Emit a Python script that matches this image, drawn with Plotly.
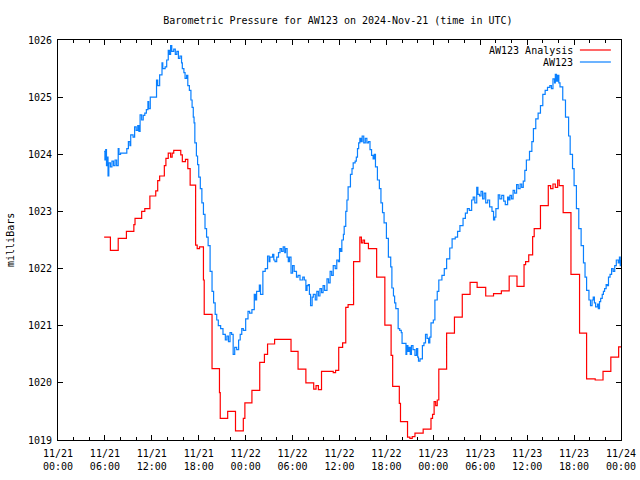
import pandas as pd
import plotly.graph_objects as go

# Hours after 2024-11-21 00:00 UTC and pressure values (mb)
analysis_hours = [5.9, 6.7, 7.7, 8.75, 9.7, 9.85, 10.7, 11.1, 11.75, 12.5, 12.75, 13.0, 13.6, 13.8,
                  14.1, 14.4, 14.6, 14.8, 15.7, 15.9, 16.3, 16.6, 16.9, 17.6, 17.8, 18.1, 18.6, 18.7,
                  19.7, 20.65, 20.75, 21.7, 22.7, 23.7, 23.9, 24.8, 25.8, 26.4, 26.8, 27.7, 29.8,
                  30.7, 31.7, 32.7, 33.0, 33.3, 33.7, 35.2, 35.5, 35.9, 36.4, 36.8, 37.1, 37.8, 38.6,
                  38.8, 39.0, 39.2, 39.7, 40.75, 41.8, 42.6, 42.8, 43.65, 43.8, 44.7, 45.0, 45.3,
                  45.65, 46.7, 47.7, 47.9, 48.1, 48.3, 48.5, 48.7, 49.7, 50.7, 51.7, 52.7, 53.6,
                  54.7, 55.7, 56.7, 57.7, 58.7, 59.6, 59.8, 60.2, 60.7, 60.9, 61.7, 62.7, 63.0,
                  63.3, 63.6, 63.9, 64.1, 64.6, 65.6, 66.7, 67.6, 68.7, 69.7, 70.7, 71.7, 72.0]
analysis_values = [1022.55, 1022.32, 1022.53, 1022.65, 1022.77, 1022.88, 1023.00, 1023.05, 1023.27,
                   1023.36, 1023.54, 1023.62, 1023.80, 1023.93, 1024.02, 1023.95, 1024.02, 1024.07,
                   1023.99, 1023.87, 1023.91, 1023.75, 1023.46, 1022.41, 1022.35, 1022.38, 1021.80,
                   1021.20, 1020.25, 1019.83, 1019.38, 1019.50, 1019.16, 1019.38, 1019.65, 1019.87,
                   1020.36, 1020.50, 1020.68, 1020.76, 1020.55, 1020.24, 1020.00, 1019.89, 1019.95,
                   1019.88, 1020.20, 1020.18, 1020.22, 1020.62, 1020.70, 1021.32, 1021.37, 1022.12,
                   1022.55, 1022.45, 1022.50, 1022.44, 1022.35, 1021.85, 1021.01, 1020.48, 1019.94,
                   1019.64, 1019.32, 1019.05, 1019.03, 1019.06, 1019.12, 1019.19, 1019.38, 1019.45,
                   1019.67, 1019.60, 1019.70, 1020.24, 1020.87, 1021.15, 1021.55, 1021.76, 1021.67,
                   1021.52, 1021.56, 1021.61, 1021.87, 1021.69, 1022.07, 1022.12, 1022.24, 1022.56,
                   1022.70, 1023.10, 1023.45, 1023.40, 1023.48, 1023.42, 1023.55, 1023.45, 1022.98,
                   1021.90, 1020.87, 1020.07, 1020.05, 1020.20, 1020.45, 1020.63, 1020.63]

obs_hours = [5.9, 6.0, 6.1, 6.2, 6.3, 6.4, 6.5, 6.7, 6.9, 7.1, 7.3, 7.5, 7.7, 7.8, 8.0, 8.5, 8.8,
             9.0, 9.2, 9.3, 9.6, 9.8, 10.0, 10.2, 10.35, 10.5, 10.7, 10.9, 11.1, 11.3, 11.5, 11.6,
             11.8, 12.4, 12.6, 12.75, 13.0, 13.3, 13.4, 13.7, 13.9, 14.1, 14.25, 14.4, 14.55, 14.8,
             15.0, 15.2, 15.4, 15.6, 15.8, 15.9, 16.1, 16.25, 16.45, 16.6, 16.8, 17.0, 17.15, 17.3,
             17.4, 17.5, 17.7, 17.85, 18.0, 18.2, 18.4, 18.6, 18.8, 19.0, 19.2, 19.45, 19.7, 19.9,
             20.1, 20.3, 20.5, 20.8, 21.1, 21.4, 21.6, 21.8, 22.0, 22.2, 22.4, 22.6, 22.85, 23.1,
             23.3, 23.5, 23.7, 24.0, 24.3, 24.5, 24.8, 25.1, 25.25, 25.4, 25.75, 25.9, 26.2, 26.5,
             26.8, 27.0, 27.1, 27.45, 27.6, 27.75, 27.97, 28.2, 28.4, 28.6, 28.8, 29.0, 29.1, 29.3,
             29.45, 29.6, 29.8, 30.0, 30.2, 30.5, 30.7, 30.95, 31.3, 31.5, 31.7, 31.85, 32.0, 32.15,
             32.3, 32.5, 32.65, 32.9, 33.1, 33.3, 33.5, 33.7, 33.9, 34.1, 34.4, 34.6, 34.8, 35.0,
             35.2, 35.45, 35.65, 35.85, 36.0, 36.15, 36.3, 36.5, 36.6, 36.8, 36.95, 37.1, 37.4,
             37.6, 37.75, 38.0, 38.15, 38.3, 38.45, 38.6, 38.75, 38.9, 39.1, 39.3, 39.5, 39.7,
             39.9, 40.1, 40.3, 40.45, 40.6, 40.85, 41.1, 41.3, 41.5, 41.7, 42.0, 42.25, 42.55,
             42.7, 42.9, 43.05, 43.2, 43.5, 43.7, 43.9, 44.0, 44.4, 44.5, 44.6, 44.75, 44.9, 45.05,
             45.2, 45.4, 45.65, 45.85, 46.0, 46.1, 46.3, 46.6, 46.8, 47.0, 47.2, 47.4, 47.55, 47.7,
             48.0, 48.2, 48.5, 48.7, 49.1, 49.4, 49.7, 50.1, 50.4, 50.8, 51.1, 51.4, 51.8, 52.1,
             52.35, 52.6, 52.9, 53.1, 53.3, 53.55, 53.7, 53.9, 54.1, 54.3, 54.5, 54.7, 54.95, 55.2,
             55.5, 55.7, 55.85, 56.0, 56.3, 56.5, 56.75, 57.0, 57.2, 57.5, 57.65, 57.8, 58.0, 58.2,
             58.4, 58.65, 58.85, 59.1, 59.3, 59.5, 59.7, 59.9, 60.3, 60.6, 60.8, 61.1, 61.4, 61.7,
             62.0, 62.3, 62.6, 62.9, 63.1, 63.3, 63.5, 63.6, 63.75, 63.9, 64.05, 64.2, 64.55, 64.9,
             65.3, 65.5, 65.8, 66.0, 66.3, 66.6, 66.9, 67.2, 67.4, 67.6, 67.9, 68.1, 68.3, 68.45,
             68.6, 68.75, 69.0, 69.1, 69.25, 69.4, 69.6, 69.75, 69.9, 70.1, 70.25, 70.4, 70.6,
             70.8, 71.0, 71.2, 71.4, 71.65, 71.8, 71.9, 72.0]
obs_values = [1024.05, 1023.90, 1024.08, 1023.80, 1023.95, 1023.62, 1023.85, 1023.78, 1023.88, 1023.80,
              1023.90, 1023.80, 1024.10, 1024.00, 1024.02, 1024.02, 1024.10, 1024.22, 1024.15, 1024.34,
              1024.30, 1024.48, 1024.42, 1024.50, 1024.40, 1024.69, 1024.60, 1024.68, 1024.72, 1024.78,
              1024.92, 1024.80, 1025.00, 1025.00, 1025.30, 1025.20, 1025.39, 1025.60, 1025.50, 1025.53,
              1025.65, 1025.82, 1025.75, 1025.90, 1025.80, 1025.84, 1025.75, 1025.80, 1025.68, 1025.72,
              1025.60, 1025.50, 1025.43, 1025.33, 1025.38, 1025.20, 1025.12, 1024.95, 1024.82, 1024.65,
              1024.55, 1024.20, 1023.97, 1023.82, 1023.60, 1023.40, 1023.15, 1022.95, 1022.70, 1022.55,
              1022.40, 1021.95, 1021.60, 1021.40, 1021.20, 1021.10, 1021.00, 1020.95, 1020.85, 1020.75,
              1020.82, 1020.72, 1020.88, 1020.85, 1020.50, 1020.62, 1020.58, 1020.75, 1020.85, 1020.95,
              1020.92, 1021.12, 1021.25, 1021.22, 1021.28, 1021.55, 1021.45, 1021.60, 1021.71, 1021.55,
              1021.95, 1022.00, 1022.22, 1022.12, 1022.20, 1022.25, 1022.15, 1022.12, 1022.20, 1022.28,
              1022.35, 1022.30, 1022.38, 1022.28, 1022.35, 1022.20, 1022.12, 1022.20, 1021.92, 1022.05,
              1021.95, 1021.85, 1021.88, 1021.80, 1021.85, 1021.80, 1021.62, 1021.70, 1021.72, 1021.55,
              1021.35, 1021.50, 1021.55, 1021.45, 1021.60, 1021.52, 1021.65, 1021.58, 1021.70, 1021.62,
              1021.82, 1021.75, 1021.95, 1021.88, 1022.05, 1022.00, 1022.15, 1022.12, 1022.35, 1022.30,
              1022.50, 1022.60, 1022.74, 1023.00, 1023.20, 1023.43, 1023.65, 1023.75, 1023.85, 1023.88,
              1023.95, 1024.10, 1024.20, 1024.28, 1024.22, 1024.32, 1024.20, 1024.28, 1024.20, 1024.22,
              1024.08, 1023.98, 1023.92, 1024.00, 1023.78, 1023.55, 1023.40, 1023.15, 1022.98, 1022.80,
              1022.53, 1022.20, 1022.03, 1021.66, 1021.52, 1021.40, 1021.30, 1020.95, 1020.92, 1020.88,
              1020.69, 1020.69, 1020.50, 1020.65, 1020.55, 1020.62, 1020.50, 1020.65, 1020.58, 1020.48,
              1020.60, 1020.45, 1020.38, 1020.42, 1020.65, 1020.70, 1020.85, 1020.78, 1020.70, 1020.80,
              1021.05, 1021.10, 1021.45, 1021.60, 1021.80, 1021.88, 1022.00, 1022.17, 1022.36, 1022.52,
              1022.55, 1022.65, 1022.75, 1022.88, 1022.97, 1023.05, 1023.02, 1023.20, 1023.25, 1023.15,
              1023.42, 1023.30, 1023.27, 1023.35, 1023.22, 1023.32, 1023.15, 1023.20, 1023.08, 1023.00,
              1022.85, 1022.90, 1023.05, 1023.29, 1023.22, 1023.28, 1023.18, 1023.12, 1023.25, 1023.20,
              1023.28, 1023.22, 1023.37, 1023.32, 1023.47, 1023.40, 1023.48, 1023.42, 1023.53, 1023.72,
              1023.90, 1024.05, 1024.22, 1024.45, 1024.62, 1024.72, 1024.85, 1025.05, 1025.12, 1025.17,
              1025.20, 1025.15, 1025.32, 1025.25, 1025.40, 1025.28, 1025.38, 1025.25, 1025.18, 1024.95,
              1024.65, 1024.32, 1024.00, 1023.75, 1023.45, 1023.05, 1022.70, 1022.40, 1022.10, 1021.85,
              1021.62, 1021.45, 1021.35, 1021.45, 1021.50, 1021.40, 1021.33, 1021.38, 1021.30, 1021.42,
              1021.48, 1021.55, 1021.60, 1021.65, 1021.72, 1021.70, 1021.85, 1021.90, 1022.00, 1021.95,
              1022.05, 1022.15, 1022.10, 1022.20, 1022.05, 1022.15]

start = pd.Timestamp("2024-11-21 00:00")
end = pd.Timestamp("2024-11-24 00:00")
series_names = ["AW123 Analysis", "AW123"]
series_colors = ["#ff0000", "#0a80ff"]

t_an = [start + pd.Timedelta(hours=h) for h in analysis_hours]
t_ob = [start + pd.Timedelta(hours=h) for h in obs_hours]

FONT = "DejaVu Sans Mono"

fig = go.Figure()
fig.add_trace(go.Scatter(x=t_an, y=analysis_values, mode="lines", line_shape="hv",
                         line=dict(color=series_colors[0], width=1.2), name=series_names[0],
                         showlegend=False))
fig.add_trace(go.Scatter(x=t_ob, y=obs_values, mode="lines", line_shape="hv",
                         line=dict(color=series_colors[1], width=1.2), name=series_names[1],
                         showlegend=False))

axis_common = dict(showline=True, linecolor="black", linewidth=1, mirror="allticks",
                   ticks="inside", tickcolor="black", showgrid=False, zeroline=False,
                   automargin=False, ticklen=5,
                   tickfont=dict(family=FONT, size=10, color="black"))

fig.update_xaxes(range=[start, end], dtick=6 * 3600 * 1000, tick0=start,
                 tickformat="%m/%d<br>%H:%M", ticklabelstandoff=4,
                 minor=dict(dtick=2 * 3600 * 1000, ticks="inside", ticklen=3, tickcolor="black",
                            showgrid=False),
                 **axis_common)
fig.update_yaxes(range=[1019, 1026], dtick=1, ticklabelstandoff=3, **axis_common)

# y-axis label
fig.add_annotation(x=-0.0853, y=0.5, xref="paper", yref="paper", text="milliBars", textangle=-90,
                   showarrow=False, xanchor="center", yanchor="middle",
                   font=dict(family=FONT, size=10, color="black"))

# legend drawn gnuplot style: text right-aligned, sample line to its right
legend_y = [0.975, 0.945]
for name, col, ly in zip(series_names, series_colors, legend_y):
    fig.add_annotation(x=0.918, y=ly, xref="paper", yref="paper", text=name, showarrow=False,
                       xanchor="right", yanchor="middle",
                       font=dict(family=FONT, size=10, color="black"))
    fig.add_shape(type="line", xref="paper", yref="paper", x0=0.927, x1=0.982, y0=ly, y1=ly,
                  line=dict(color=col, width=1.2))

fig.update_layout(
    width=640, height=480,
    margin=dict(l=58, r=19, t=40, b=40),
    paper_bgcolor="white", plot_bgcolor="white",
    title=dict(text="Barometric Pressure for AW123 on 2024-Nov-21 (time in UTC)",
               x=0.528, xanchor="center", y=0.9583, yanchor="middle",
               font=dict(family=FONT, size=10, color="black")),
)

# remove the default 8px page margin so the figure fills the 640x480 window exactly
fig.write_html("out.html", config={"displayModeBar": False},
               post_script="document.body.style.margin='0';document.body.style.overflow='hidden';")
